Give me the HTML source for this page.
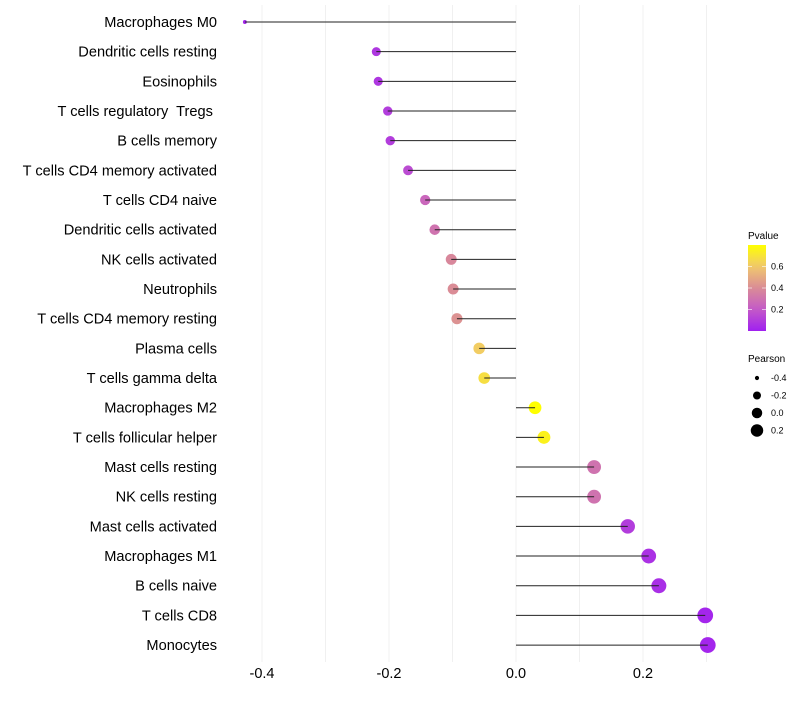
<!DOCTYPE html>
<html><head><meta charset="utf-8"><style>
body{margin:0;background:#fff;font-family:"Liberation Sans",sans-serif}
svg text{font-family:"Liberation Sans",sans-serif;white-space:pre}
</style></head><body>
<svg id="c" width="800" height="700"></svg>
<script>
const categories=["Macrophages M0","Dendritic cells resting","Eosinophils","T cells regulatory  Tregs ","B cells memory","T cells CD4 memory activated","T cells CD4 naive","Dendritic cells activated","NK cells activated","Neutrophils","T cells CD4 memory resting","Plasma cells","T cells gamma delta","Macrophages M2","T cells follicular helper","Mast cells resting","NK cells resting","Mast cells activated","Macrophages M1","B cells naive","T cells CD8","Monocytes"];
const pearson=[-0.427,-0.220,-0.217,-0.202,-0.198,-0.170,-0.143,-0.128,-0.102,-0.099,-0.093,-0.058,-0.050,0.030,0.044,0.123,0.123,0.176,0.209,0.225,0.298,0.302];
const pvalue=[0.02,0.08,0.08,0.10,0.10,0.15,0.25,0.30,0.38,0.40,0.42,0.62,0.68,0.80,0.75,0.30,0.30,0.10,0.06,0.05,0.02,0.02];
const xTicks=[-0.4,-0.2,0.0,0.2];
const xMinor=[-0.3,-0.1,0.1,0.3];
const pTicks=[0.2,0.4,0.6];
const sizeTicks=[-0.4,-0.2,0.0,0.2];

const svg=document.getElementById('c');
const NS='http://www.w3.org/2000/svg';
function mk(t,a,p){const e=document.createElementNS(NS,t);for(const k in a)e.setAttribute(k,a[k]);(p||svg).appendChild(e);return e;}
const x=v=>516+v*635;
const y=i=>22+i*29.67;
const rad=v=>Math.sqrt(Math.max(3,38+80*v));
const stops=[[0,[160,32,240]],[0.25,[196,90,200]],[0.5,[218,140,150]],[0.75,[240,200,110]],[1,[255,255,0]]];
function col(p){let t=Math.min(1,Math.max(0,p/0.8));for(let i=1;i<stops.length;i++){if(t<=stops[i][0]){const a=stops[i-1],b=stops[i];const f=(t-a[0])/(b[0]-a[0]);const c=a[1].map((v,k)=>Math.round(v+(b[1][k]-v)*f));return `rgb(${c})`;}}return 'rgb(255,255,0)';}

const grid=mk('g',{});


xMinor.concat(xTicks).forEach(v=>{mk('line',{x1:x(v),x2:x(v),y1:5,y2:662,stroke:'#f0f0f0','stroke-width':1},grid);});
xTicks.forEach(v=>{const t=mk('text',{x:x(v),y:678,'text-anchor':'middle','font-size':14.5,fill:'#000'});t.textContent=v.toFixed(1);

});

categories.forEach((c,i)=>{
 const t=mk('text',{x:217,y:y(i)+5,'text-anchor':'end','font-size':14.6,fill:'#000'});t.textContent=c;
 
 
 const cir=mk('circle',{cx:x(pearson[i]),cy:y(i),r:rad(pearson[i]),fill:col(pvalue[i])});
 
 
 const l=mk('line',{x1:x(0),x2:x(pearson[i]),y1:y(i),y2:y(i),stroke:'#222','stroke-width':1});
 
 
});

const lg=mk('g',{});


const defs=mk('defs',{});
const gr=mk('linearGradient',{id:'pg',x1:0,y1:1,x2:0,y2:0},defs);
for(let k=0;k<=10;k++){mk('stop',{offset:k/10,'stop-color':col(0.8*k/10)},gr);}
const tt=mk('text',{x:748,y:239,'font-size':10},lg);tt.textContent='Pvalue';
mk('rect',{x:748,y:245,width:18,height:86,fill:'url(#pg)'},lg);
pTicks.forEach(p=>{const yy=331-p/0.8*86;mk('line',{x1:748,x2:752,y1:yy,y2:yy,stroke:'#fff','stroke-opacity':0.6},lg);mk('line',{x1:762,x2:766,y1:yy,y2:yy,stroke:'#fff','stroke-opacity':0.6},lg);
 const t=mk('text',{x:771,y:yy+3,'font-size':9},lg);t.textContent=p.toFixed(1);});
const sl=mk('g',{});


const st=mk('text',{x:748,y:362,'font-size':10},sl);st.textContent='Pearson';
sizeTicks.forEach((v,k)=>{const yy=378+k*17.5;mk('circle',{cx:757,cy:yy,r:rad(v)*0.85,fill:'#000'},sl);
 const t=mk('text',{x:771,y:yy+3,'font-size':9},sl);t.textContent=v.toFixed(1);});
</script>
</body></html>
